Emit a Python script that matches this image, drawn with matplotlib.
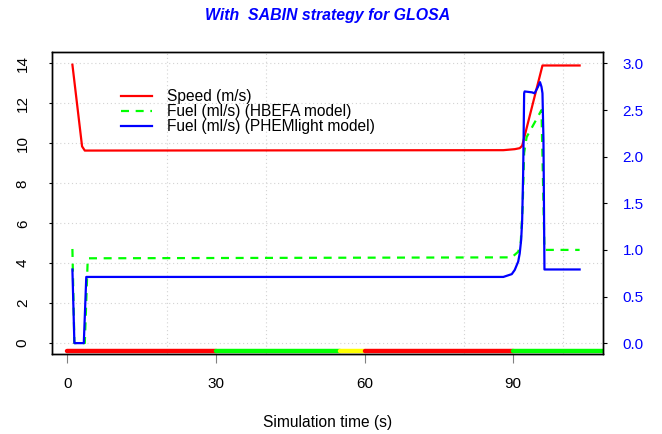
import matplotlib
matplotlib.use('Agg')
import matplotlib.pyplot as plt
from matplotlib.ticker import MultipleLocator, FormatStrFormatter

plt.rcParams['font.family'] = ['Liberation Sans', 'DejaVu Sans']

# data
speed_t = [1, 2.95, 3.5, 88, 90.3, 91.3, 91.8, 95.9, 103.4]
speed_v = [13.94, 9.85, 9.64, 9.66, 9.71, 9.76, 9.88, 13.9, 13.9]

hbefa_t = [1, 1.4, 3.5, 4.1, 89.7, 91.0, 91.5, 91.9, 92.2, 92.7, 95.7, 96.3, 103.4]
hbefa_v = [1.01, 0, 0, 0.91, 0.92, 0.98, 1.07, 1.46, 2.04, 2.21, 2.50, 1.0, 1.0]

phem_t = [1, 1.4, 3.3, 3.8, 88, 89.7, 90.3, 91.0, 91.3, 91.6, 91.8, 92.0, 92.2,
          92.3, 93.8, 94.3, 95.0, 95.4, 95.7, 95.9, 96.1, 96.3, 103.4]
phem_v = [0.79, 0, 0, 0.71, 0.71, 0.74, 0.785, 0.875, 0.96, 1.11, 1.32, 1.82, 2.68,
          2.70, 2.69, 2.68, 2.75, 2.80, 2.75, 2.68, 2.18, 0.79, 0.79]

# traffic light phases
phase_start = [0, 30, 55, 60, 90]
phase_end = [30, 55, 60, 90, 120]
phase_state = ['r', 'g', 'y', 'r', 'g']
state_color = {'r': '#FF0000', 'g': '#00FF00', 'y': '#FFFF00'}
bar_level = -0.39

xticks = [0, 30, 60, 90]
left_ticks = list(range(0, 15, 2))
right_ticks = [0, 0.5, 1.0, 1.5, 2.0, 2.5, 3.0]

fig = plt.figure(figsize=(6.62, 4.34), dpi=100)
ax1 = fig.add_axes([52 / 662, 1 - 354.3 / 434, 551 / 662, 302 / 434])
ax2 = ax1.twinx()

# grid
ax1.set_xticks(xticks)
ax1.xaxis.set_minor_locator(MultipleLocator(20))
ax1.grid(which='minor', axis='x', color='#d3d3d3', linestyle=(0, (1, 2.5)), linewidth=0.8)
ax1.grid(which='major', axis='y', color='#d3d3d3', linestyle=(0, (1, 2.5)), linewidth=0.8)
ax1.set_axisbelow(True)

# signal bars
for s, e, st in zip(phase_start, phase_end, phase_state):
    ax1.plot([s, e], [bar_level, bar_level], color=state_color[st], lw=3.2,
             solid_capstyle='round')

l1, = ax1.plot(speed_t, speed_v, color='#FF0000', lw=1.6, label='Speed (m/s)')
l2, = ax2.plot(hbefa_t, hbefa_v, color='#00FF00', lw=1.6, dashes=(3.6, 3.0),
               label='Fuel (ml/s) (HBEFA model)')
l3, = ax2.plot(phem_t, phem_v, color='#0000FF', lw=1.6,
               label='Fuel (ml/s) (PHEMlight model)')

ax1.set_xlim(-3.12, 108.12)
ax1.set_ylim(-0.56, 14.56)
ax2.set_ylim(-0.12, 3.12)

ax1.tick_params(axis='x', which='major', length=6.5, color='gray', pad=10, labelsize=11)
ax1.tick_params(axis='x', which='minor', length=0)
ax1.set_yticks(left_ticks)
ax1.tick_params(axis='y', labelrotation=90, length=2, pad=14, labelsize=11)
for lab in ax1.get_yticklabels():
    lab.set_va('center')

ax2.set_yticks(right_ticks)
ax2.yaxis.set_major_formatter(FormatStrFormatter('%.1f'))
ax2.tick_params(axis='y', length=3.2, pad=11, labelcolor='#0000FF', labelsize=11)

for ax in (ax1, ax2):
    for sp in ax.spines.values():
        sp.set_linewidth(1.0)

ax1.set_xlabel('Simulation time (s)', fontsize=11.2, labelpad=17)
ax1.set_title('With  SABIN strategy for GLOSA', fontsize=11.4, fontweight='bold',
              fontstyle='italic', color='#0000FF', pad=23)

ax2.legend([l1, l2, l3], [l.get_label() for l in (l1, l2, l3)], loc='upper left',
           bbox_to_anchor=(121 / 662, 1 - 89 / 434), bbox_transform=fig.transFigure,
           frameon=False, fontsize=11.2, handlelength=2.0, handletextpad=0.96,
           labelspacing=0.0, borderpad=0, borderaxespad=0)

fig.savefig('out.png', dpi=100)
